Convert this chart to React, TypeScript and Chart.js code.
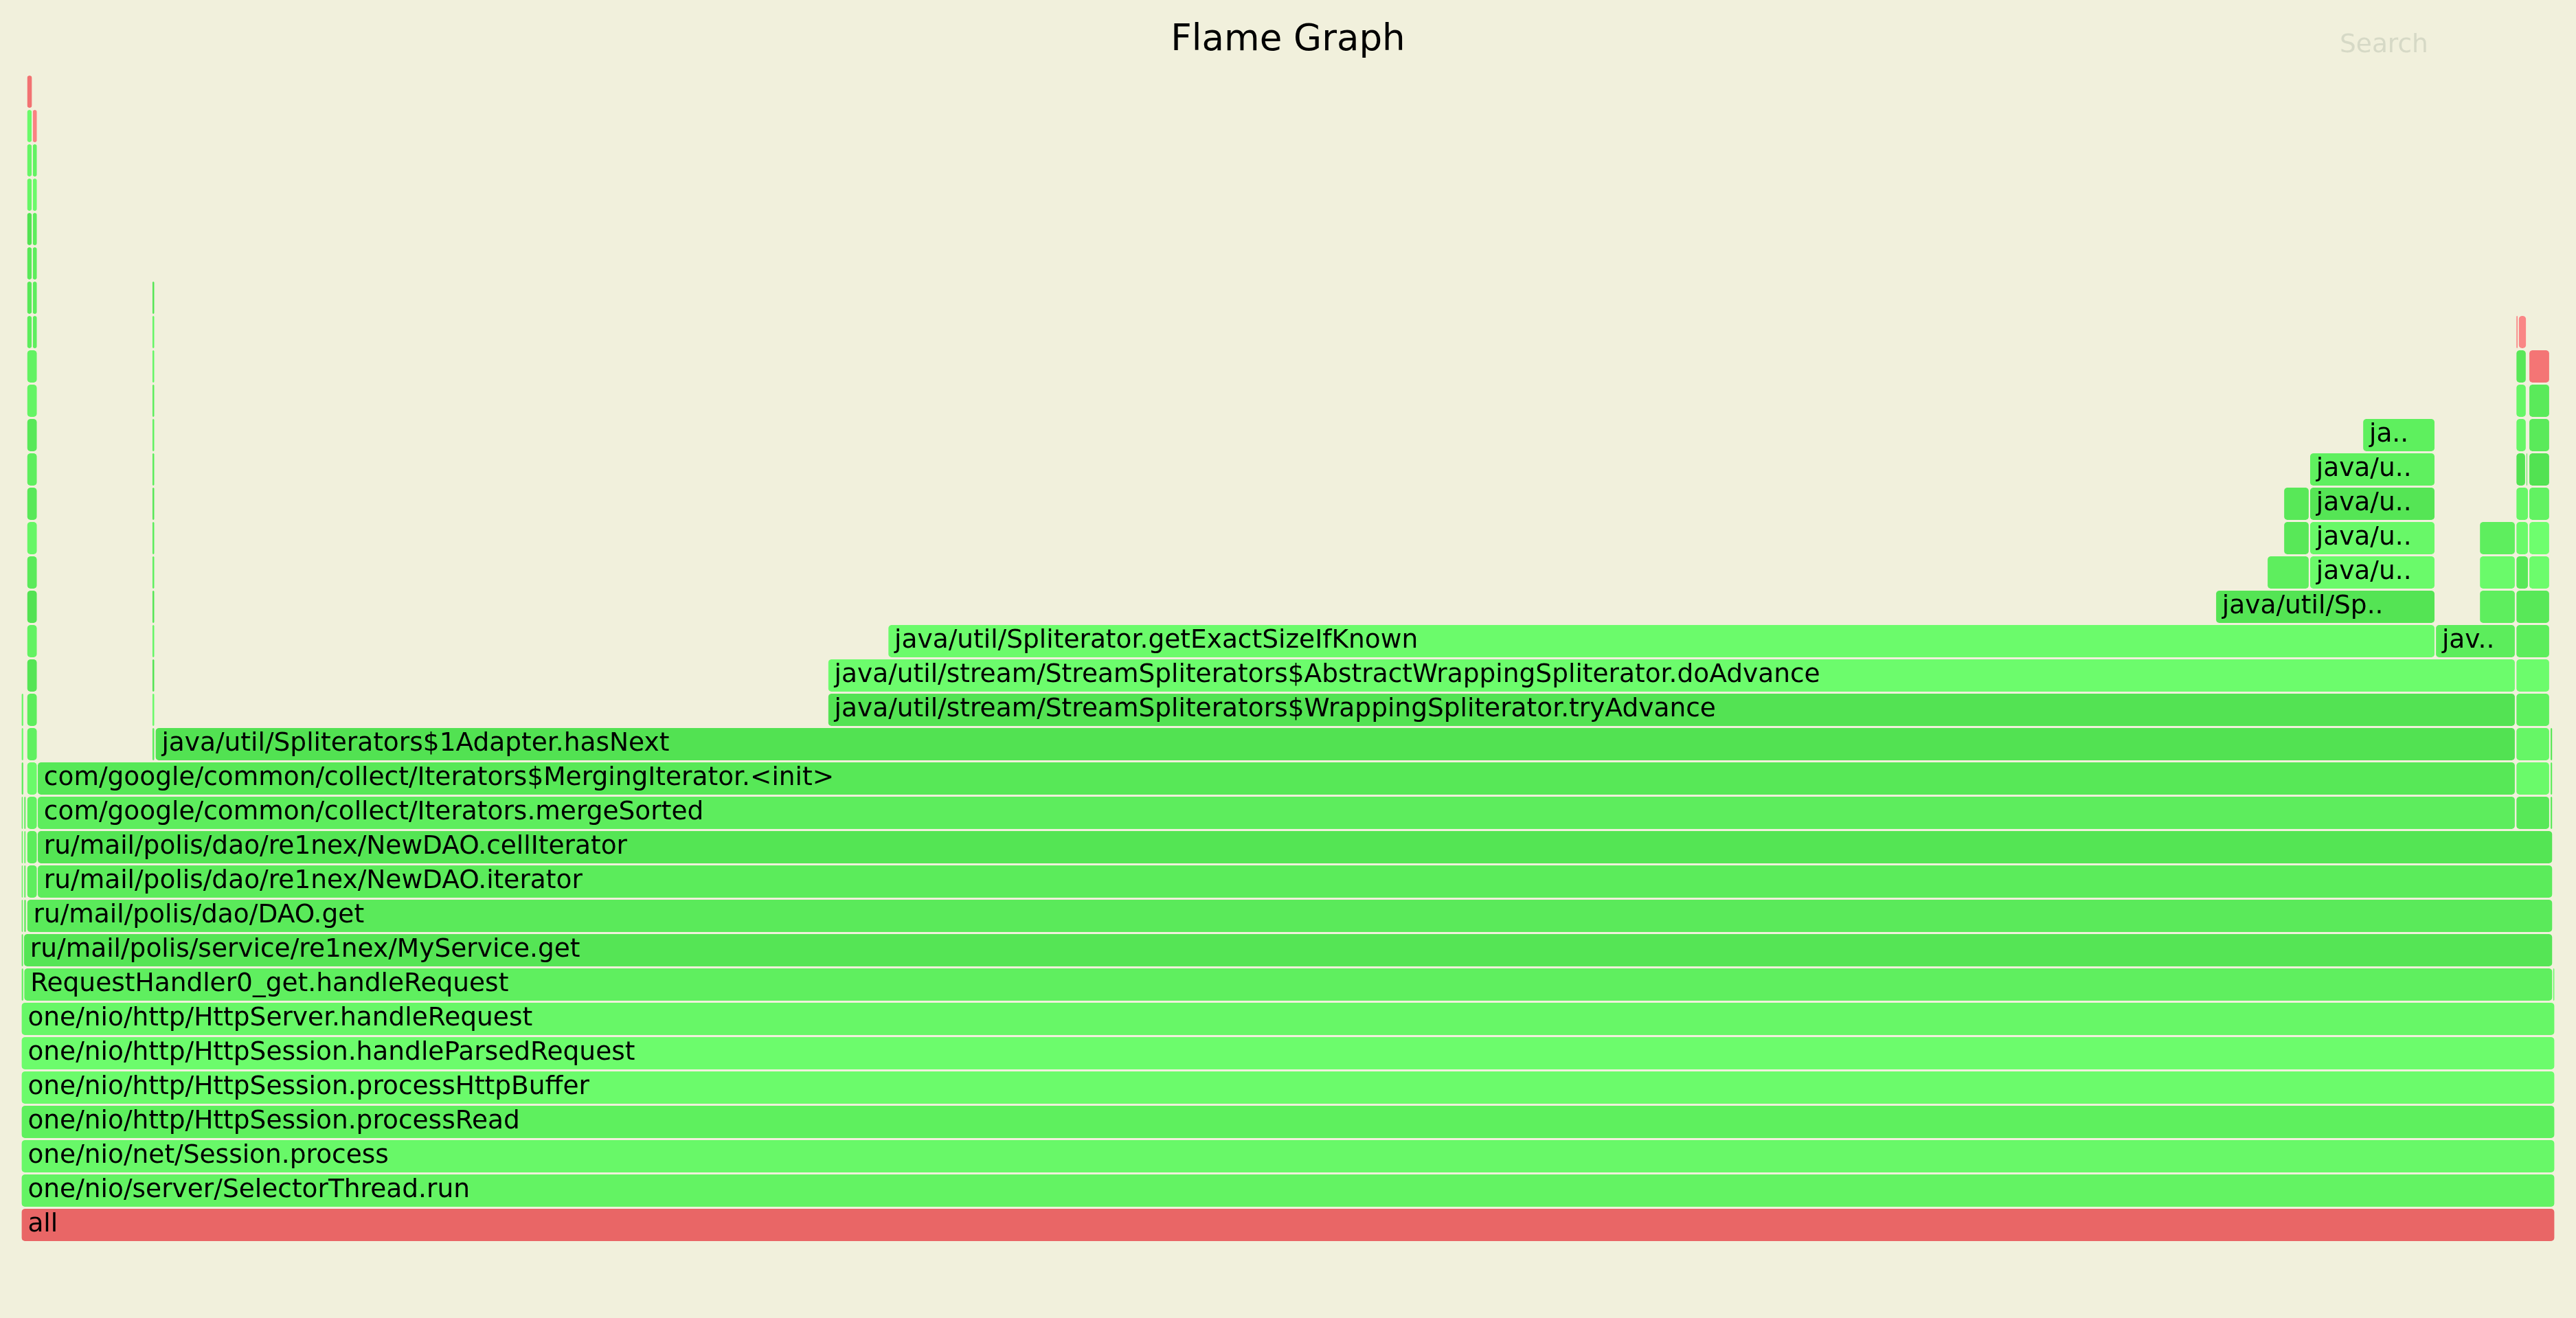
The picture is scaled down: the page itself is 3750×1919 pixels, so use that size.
import React, { useEffect, useRef } from 'react';
import { Chart, registerables } from 'chart.js';

Chart.register(...registerables);

// ---------------- data ----------------
// stack depth categories (0 = root at the bottom)
const depthLabels = [
  '0', '1', '2', '3', '4', '5', '6', '7', '8', '9',
  '10', '11', '12', '13', '14', '15', '16', '17', '18', '19',
  '20', '21', '22', '23', '24', '25', '26', '27', '28', '29',
  '30', '31', '32', '33',
];

const frameNames = [
  'all',
  'one/nio/server/SelectorThread.run',
  'one/nio/net/Session.process',
  'one/nio/http/HttpSession.processRead',
  'one/nio/http/HttpSession.processHttpBuffer',
  'one/nio/http/HttpSession.handleParsedRequest',
  'one/nio/http/HttpServer.handleRequest',
  // 7
  'one/nio/http/HttpServer.findHandlerByHost', 'RequestHandler0_get.handleRequest', 'one/nio/http/Request.getPath',
  // 8
  'one/nio/http/Request.getRequiredParameter', 'ru/mail/polis/service/re1nex/MyService.get',
  // 9
  'one/nio/http/Request.getParameter', 'java/lang/String.getBytes', 'ru/mail/polis/dao/DAO.get',
  // 10
  'java/lang/String.startsWith', 'java/lang/StringCoding.encode', 'com/google/common/collect/Iterators$PeekingImpl.next', 'ru/mail/polis/dao/re1nex/NewDAO.iterator',
  // 11
  'java/lang/String.regionMatches', 'java/lang/StringCoding.encodeUTF8', 'com/google/common/collect/Iterators$MergingIterator.next', 'ru/mail/polis/dao/re1nex/NewDAO.cellIterator',
  // 12
  'java/lang/StringLatin1.regionMatchesCI', 'java/util/Arrays.copyOf', 'java/util/PriorityQueue.poll', 'com/google/common/collect/Iterators.mergeSorted', 'java/util/stream/ReferencePipeline.collect', 'ru/mail/polis/dao/re1nex/MemTable.iterator',
  // 13
  'java/lang/Character.toUpperCase', 'java/util/PriorityQueue.siftDownUsingComparator', 'com/google/common/collect/Iterators$MergingIterator.<init>', 'java/util/stream/AbstractPipeline.evaluate', 'java/util/concurrent/ConcurrentSkipListMap.tailMap',
  // 14
  'java/lang/CharacterDataLatin1.toUpperCase', 'com/google/common/collect/Iterators$MergingIterator$1.compare', 'java/util/PriorityQueue.add', 'java/util/Spliterators$1Adapter.hasNext', 'java/util/stream/ReduceOps$ReduceOp.evaluateSequential', 'java/util/concurrent/ConcurrentSkipListMap$SubMap.<init>',
  // 15
  'java/lang/CharacterData.of', 'java/util/Comparator$$Lambda$71.compare', 'java/util/PriorityQueue.offer', 'java/util/stream/StreamSpliterators$WrappingSpliterator.tryAdvance', 'java/util/stream/AbstractPipeline.wrapAndCopyInto',
  // 16
  'java/util/Comparator.lambda$comparing$77a9974f$1', 'java/util/PriorityQueue.siftUp', 'java/util/stream/StreamSpliterators$AbstractWrappingSpliterator.doAdvance', 'java/util/stream/AbstractPipeline.copyInto',
  // 17
  'ru/mail/polis/dao/re1nex/Cell.compareTo', 'java/util/PriorityQueue.siftUpUsingComparator', 'java/util/Spliterator.getExactSizeIfKnown', 'java/util/stream/StreamSpliterators$WrappingSpliterator.lambda$initPartialTraversalState$0', 'java/util/ArrayList$ArrayListSpliterator.forEachRemaining',
  // 18
  'java/nio/ByteBuffer.compareTo', 'com/google/common/collect/Iterators$MergingIterator$1.compare', 'java/util/Spliterators$IteratorSpliterator.estimateSize', 'java/util/Spliterators$IteratorSpliterator.tryAdvance', 'java/util/stream/ReferencePipeline$3$1.accept',
  // 19
  'java/nio/HeapByteBuffer.get', 'java/util/Comparator$$Lambda$71.compare', 'java/util/Collections$UnmodifiableCollection.size', 'java/util/concurrent/ConcurrentSkipListMap$Values.size', 'java/util/stream/ReferencePipeline$3$1.accept', 'java/util/stream/ReduceOps$3ReducingSink.accept', 'ru/mail/polis/dao/re1nex/NewDAO.lambda$cellIterator$0',
  // 20
  'java/nio/ByteBuffer.get', 'java/util/Comparator.lambda$comparing$77a9974f$1', 'java/util/concurrent/ConcurrentSkipListMap$SubMap.size', 'java/util/concurrent/ConcurrentSkipListMap.size', 'java/util/stream/ReduceOps$3ReducingSink.accept', 'java/util/ArrayList.add', 'ru/mail/polis/dao/re1nex/SSTable.iterator',
  // 21
  'java/nio/Buffer.checkIndex', 'ru/mail/polis/dao/re1nex/Cell.getKey', 'java/util/concurrent/ConcurrentSkipListMap$SubMap.isBeforeEnd', 'java/util/concurrent/ConcurrentSkipListMap.findFirst', 'java/util/ArrayList.grow', 'ru/mail/polis/dao/re1nex/SSTable$1.<init>',
  // 22
  'jdk/internal/util/Preconditions.checkIndex', 'java/nio/ByteBuffer.compareTo', 'java/util/concurrent/ConcurrentSkipListMap.cpr', 'java/util/Arrays.copyOf', 'java/lang/System.arraycopy', 'ru/mail/polis/dao/re1nex/SSTable.getKeyPosition',
  // 23
  'java/nio/ByteBuffer.mismatch', 'java/nio/ByteBuffer.mismatch', 'java/nio/ByteBuffer.compareTo', 'java/lang/reflect/Array.newInstance', 'java/nio/channels/FileChannel.read',
  // 24
  'jdk/internal/util/ArraysSupport.mismatch', 'jdk/internal/util/ArraysSupport.mismatch', 'java/lang/reflect/Array.newArray', 'sun/nio/ch/FileChannelImpl.read',
  // 25
  'jdk/internal/util/ArraysSupport.vectorizedMismatch', 'jdk/internal/util/ArraysSupport.vectorizedMismatch', 'jdk/internal/misc/Unsafe.allocateUninitializedArray', 'pread',
  // 26
  'jdk/internal/misc/Unsafe.getLongUnaligned', 'java/nio/Buffer.position', 'jdk/internal/misc/Unsafe.getLongUnaligned', 'OptoRuntime::new_array_C', 'CollectedHeap::array_allocate',
  // 27
  'jdk/internal/misc/Unsafe.getLong', 'java/nio/Buffer.limit', 'jdk/internal/misc/Unsafe.getLong',
  // 28
  'java/lang/invoke/LambdaForm$MH.invoke', 'java/lang/invoke/LambdaForm$DMH.invokeStatic',
  // 29
  'java/lang/invoke/Invokers$Holder.linkToTargetMethod', 'java/lang/invoke/DirectMethodHandle$Holder.invokeStatic',
  // 30
  'java/lang/invoke/MethodHandleNatives.linkCallSite', 'java/lang/invoke/MethodHandleNatives.linkCallSiteImpl',
  // 31
  'java/lang/invoke/CallSite.makeSite', 'java/lang/invoke/BootstrapMethodInvoker.invoke',
  // 32
  'java/lang/invoke/LambdaMetafactory.metafactory', 'Interpreter',
  // 33
  'InterpreterRuntime::resolve_invokedynamic',
];

const frameDepths = [
  0, 1, 2, 3, 4, 5, 6,
  7, 7, 7,
  8, 8,
  9, 9, 9,
  10, 10, 10, 10,
  11, 11, 11, 11,
  12, 12, 12, 12, 12, 12,
  13, 13, 13, 13, 13,
  14, 14, 14, 14, 14, 14,
  15, 15, 15, 15, 15,
  16, 16, 16, 16,
  17, 17, 17, 17, 17,
  18, 18, 18, 18, 18,
  19, 19, 19, 19, 19, 19, 19,
  20, 20, 20, 20, 20, 20, 20,
  21, 21, 21, 21, 21, 21,
  22, 22, 22, 22, 22, 22,
  23, 23, 23, 23, 23,
  24, 24, 24, 24,
  25, 25, 25, 25,
  26, 26, 26, 26, 26,
  27, 27, 27,
  28, 28,
  29, 29,
  30, 30,
  31, 31,
  32, 32,
  33,
];

// sample offsets where each frame starts / ends
const frameStarts = [
  0, 0, 0, 0, 0, 0, 0,
  0, 1.2, 1179.1,
  0, 1.1,
  0, 1.2, 2.6,
  0, 1.2, 2.6, 7.5,
  0, 1.2, 2.6, 7.5,
  0, 1.2, 2.6, 7.5, 1162, 1177.9,
  0, 2.6, 7.5, 1162, 1177.9,
  0, 2.6, 60.9, 62.4, 1162, 1177.9,
  0, 2.6, 60.9, 375.7, 1162,
  2.6, 60.9, 375.7, 1162,
  2.6, 60.9, 403.7, 1124.5, 1162,
  2.6, 60.9, 1022.1, 1145, 1162,
  2.6, 60.9, 1046.1, 1065.9, 1145, 1162, 1168,
  2.6, 60.9, 1053.8, 1065.9, 1145, 1162, 1168,
  2.6, 60.9, 1053.8, 1065.9, 1162, 1168,
  2.6, 60.9, 1065.9, 1162, 1166.7, 1168,
  2.6, 60.9, 1090.6, 1162, 1168,
  2.6, 60.9, 1162, 1168,
  2.6, 60.9, 1162, 1168,
  2.6, 5.2, 60.9, 1162, 1163.1,
  2.6, 5.2, 60.9,
  2.6, 5.2,
  2.6, 5.2,
  2.6, 5.2,
  2.6, 5.2,
  2.6, 5.2,
  2.6,
];

const frameEnds = [
  1180, 1180, 1180, 1180, 1180, 1180, 1180,
  1.1, 1179, 1180,
  1.0, 1179,
  0.9, 2.3, 1179,
  0.9, 2.2, 7.4, 1179,
  0.9, 2.2, 7.4, 1179,
  0.9, 2.2, 7.4, 1161.6, 1177.6, 1179,
  1.1, 7.4, 1161.6, 1177.6, 1179,
  1.1, 7.4, 62.1, 1161.6, 1177.6, 1179,
  1.1, 7.4, 62.1, 1161.6, 1177.6,
  7.4, 62.1, 1161.6, 1177.6,
  7.4, 62.1, 1124.2, 1161.6, 1177.6,
  7.4, 62.1, 1124.2, 1161.6, 1177.6,
  7.4, 62.1, 1065.6, 1124.2, 1161.6, 1167.7, 1177.6,
  7.4, 62.1, 1065.6, 1124.2, 1161.6, 1167.7, 1177.6,
  7.4, 62.1, 1065.6, 1124.2, 1167.7, 1177.6,
  7.4, 62.1, 1124.2, 1166.4, 1167.4, 1177.6,
  7.4, 62.1, 1124.2, 1166.7, 1177.6,
  7.4, 62.1, 1166.7, 1177.6,
  7.4, 62.1, 1166.7, 1177.6,
  5.0, 7.4, 62.1, 1162.9, 1166.8,
  5.0, 7.4, 62.1,
  5.0, 7.4,
  5.0, 7.4,
  5.0, 7.4,
  5.0, 7.4,
  5.0, 7.4,
  5.1,
];

const frameColors = [
  '#e96666', '#63f363', '#68f868', '#5ef05e', '#6bfb6b', '#6cfc6c', '#67f767',
  '#62f262', '#5fef5f', '#6cfc6c',
  '#5ded5d', '#55e555',
  '#60f060', '#58e858', '#5aea5a',
  '#66f666', '#5cec5c', '#5eee5e', '#5bec5b',
  '#60f060', '#66f666', '#5ced5c', '#54e554',
  '#62f262', '#5aea5a', '#62f262', '#5ded5d', '#58e858', '#5aea5a',
  '#5aea5a', '#6afa6a', '#57e857', '#6afa6a', '#5eee5e',
  '#6afa6a', '#60f060', '#5eee5e', '#52e252', '#66f666', '#58e858',
  '#66f666', '#5ced5c', '#6afa6a', '#53e353', '#5ef05e',
  '#55e555', '#54e454', '#6cfc6c', '#6cfc6c',
  '#62f262', '#66f666', '#6bfb6b', '#5ced5c', '#5ced5c',
  '#52e252', '#56e656', '#54e454', '#5eee5e', '#58e858',
  '#5aea5a', '#60f060', '#5eee5e', '#6afa6a', '#6afa6a', '#58e858', '#6cfc6c',
  '#66f666', '#5ced5c', '#58e858', '#68f868', '#5eee5e', '#6afa6a', '#6efe6e',
  '#58e858', '#58e858', '#58e858', '#55e555', '#66f666', '#62f262',
  '#5eee5e', '#5ced5c', '#5ff05f', '#52e252', '#5aea5a', '#52e252',
  '#58e858', '#62f262', '#5ef05e', '#66f666', '#5aea5a',
  '#64f464', '#5eee5e', '#66f666', '#5aea5a',
  '#62f262', '#66f666', '#58e858', '#f47575',
  '#5ced5c', '#5eee5e', '#66f666', '#fa8080', '#fa8686',
  '#58e858', '#5ced5c', '#56e656',
  '#58e858', '#5ced5c',
  '#52e252', '#5ced5c',
  '#66f666', '#6afa6a',
  '#66f666', '#62f262',
  '#6afa6a', '#fa8282',
  '#f27272',
];

const TITLE = 'Flame Graph';
const SEARCH_LABEL = 'Search';

// ---------------- style ----------------
const BG = '#f1f0dc';
const PX = 3.125; // device pixels per original CSS pixel
const FONT = '"DejaVu Sans", Verdana, sans-serif';

const frameLabelPlugin = {
  id: 'frameLabels',
  afterDatasetsDraw(chart: any) {
    const ctx = chart.ctx as CanvasRenderingContext2D;
    const meta = chart.getDatasetMeta(0);
    ctx.save();
    ctx.font = `${12 * PX}px ${FONT}`;
    ctx.fillStyle = '#000000';
    ctx.textAlign = 'left';
    ctx.textBaseline = 'alphabetic';
    meta.data.forEach((el: any, i: number) => {
      const { x, base, y, height } = el.getProps(['x', 'base', 'y', 'height'], true);
      const left = Math.min(x, base);
      const w = Math.abs(x - base);
      const wCss = w / PX;
      if (wCss < 21) return;
      const chars = Math.floor(wCss / 7);
      const name = frameNames[i];
      const text = name.length <= chars ? name : name.substring(0, chars - 2) + '..';
      ctx.fillText(text, left + 3 * PX, y - height / 2 + 33, w - 6 * PX);
    });
    ctx.restore();
  },
  afterDraw(chart: any) {
    const ctx = chart.ctx as CanvasRenderingContext2D;
    ctx.save();
    ctx.font = `${12 * PX}px ${FONT}`;
    ctx.fillStyle = '#d6d9c6';
    ctx.textAlign = 'left';
    ctx.textBaseline = 'alphabetic';
    ctx.fillText(SEARCH_LABEL, 3406, 76);
    ctx.restore();
  },
};

export default function App() {
  const ref = useRef<HTMLCanvasElement | null>(null);

  useEffect(() => {
    document.body.style.margin = '0';
    document.body.style.background = BG;
    const canvas = ref.current;
    if (!canvas) return;
    const total = frameEnds[0];
    const chart = new Chart(canvas, {
      type: 'bar',
      data: {
        labels: depthLabels,
        datasets: [
          {
            data: frameStarts.map((s, i) => ({ x: [s, frameEnds[i]], y: depthLabels[frameDepths[i]] })) as any,
            backgroundColor: frameColors,
            borderColor: BG,
            borderWidth: { left: 0.6, right: 0.6, top: 0, bottom: 0 } as any,
            borderSkipped: false,
            borderRadius: 5,
            barPercentage: 0.94,
            categoryPercentage: 1,
          },
        ],
      },
      options: {
        indexAxis: 'y',
        responsive: false,
        devicePixelRatio: 1,
        animation: false,
        events: [],
        layout: { padding: { left: 31, right: 31, top: 0, bottom: 110.5 } },
        scales: {
          x: { type: 'linear', min: 0, max: total, display: false, grid: { display: false } },
          y: { type: 'category', reverse: true, display: false, grid: { display: false } },
        },
        plugins: {
          legend: { display: false },
          tooltip: { enabled: false },
          title: {
            display: true,
            text: TITLE,
            color: '#000000',
            font: { family: FONT, size: 53, weight: 'normal', lineHeight: 1.2 },
            padding: { top: 27, bottom: 17.9 },
          },
        },
      },
      plugins: [frameLabelPlugin],
    });
    return () => chart.destroy();
  }, []);

  return (
    <div style={{ width: 3750, height: 1919, background: BG }}>
      <canvas ref={ref} width={3750} height={1919} style={{ display: 'block' }} />
    </div>
  );
}
